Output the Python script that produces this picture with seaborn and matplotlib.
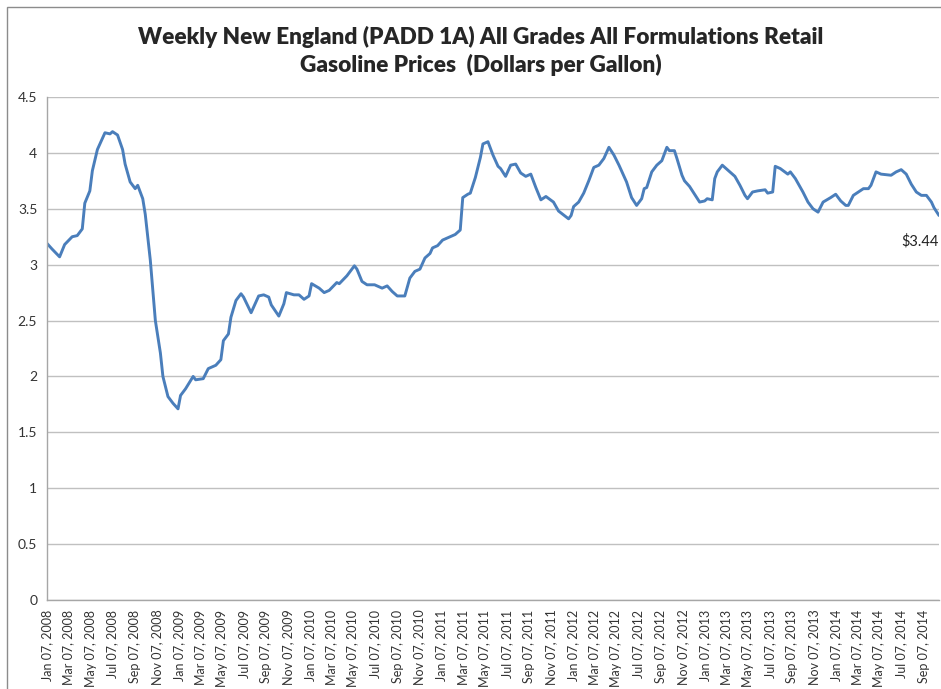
import pandas as pd
import matplotlib.pyplot as plt
import matplotlib.dates as mdates
from matplotlib.ticker import FuncFormatter, MultipleLocator
from matplotlib.patches import Rectangle
import seaborn as sns

# Weekly prices (week number counted from Jan 07, 2008)
start_date = "2008-01-07"
week_no = [
    0, 2, 5, 7, 10, 12, 14, 15, 17, 18, 20, 23, 25, 26, 28, 30, 31, 33, 35, 36,
    38, 39, 41, 43, 45, 46, 48, 50, 52, 53, 55, 58, 59, 62, 64, 67, 69, 70, 72, 73,
    75, 77, 78, 81, 82, 84, 86, 88, 89, 92, 94, 95, 98, 100, 102, 104, 105, 108, 110, 112,
    115, 116, 119, 122, 123, 125, 127, 130, 133, 135, 137, 139, 142, 144, 146, 148, 150, 152, 153, 155,
    157, 160, 162, 164, 165, 167, 168, 170, 172, 173, 175, 177, 179, 180, 182, 184, 186, 188, 190, 192,
    194, 196, 198, 201, 203, 207, 208, 209, 211, 213, 215, 217, 219, 221, 223, 225, 227, 230, 232, 234,
    236, 237, 238, 240, 242, 244, 246, 247, 249, 250, 252, 253, 255, 257, 259, 261, 262, 264, 265, 266,
    268, 270, 273, 275, 277, 278, 280, 282, 285, 286, 288, 289, 291, 294, 295, 297, 300, 302, 304, 306,
    308, 311, 313, 315, 317, 318, 320, 322, 324, 326, 327, 329, 331, 335, 337, 339, 341, 343, 345, 347,
    349, 351, 352, 354,
]
price = [
    3.19, 3.14, 3.07, 3.18, 3.25, 3.26, 3.32, 3.55, 3.66, 3.84, 4.03, 4.18, 4.17, 4.19, 4.16, 4.03, 3.90, 3.74, 3.68, 3.71,
    3.59, 3.45, 3.04, 2.50, 2.21, 2.00, 1.82, 1.76, 1.71, 1.83, 1.89, 2.00, 1.97, 1.98, 2.07, 2.10, 2.15, 2.32, 2.38, 2.53,
    2.68, 2.74, 2.71, 2.57, 2.62, 2.72, 2.73, 2.71, 2.64, 2.54, 2.65, 2.75, 2.73, 2.73, 2.69, 2.72, 2.83, 2.79, 2.75, 2.77,
    2.84, 2.83, 2.90, 2.99, 2.96, 2.85, 2.82, 2.82, 2.79, 2.81, 2.76, 2.72, 2.72, 2.88, 2.94, 2.96, 3.06, 3.10, 3.15, 3.17,
    3.22, 3.25, 3.27, 3.31, 3.60, 3.63, 3.64, 3.78, 3.96, 4.08, 4.10, 3.98, 3.88, 3.86, 3.79, 3.89, 3.90, 3.82, 3.79, 3.81,
    3.69, 3.58, 3.61, 3.56, 3.48, 3.41, 3.44, 3.52, 3.56, 3.64, 3.75, 3.87, 3.89, 3.95, 4.05, 3.98, 3.89, 3.74, 3.60, 3.53,
    3.59, 3.68, 3.69, 3.83, 3.89, 3.93, 4.05, 4.02, 4.02, 3.95, 3.80, 3.75, 3.70, 3.63, 3.56, 3.57, 3.59, 3.58, 3.77, 3.83,
    3.89, 3.85, 3.79, 3.71, 3.62, 3.59, 3.65, 3.66, 3.67, 3.64, 3.65, 3.88, 3.86, 3.81, 3.83, 3.77, 3.65, 3.56, 3.50, 3.47,
    3.56, 3.60, 3.63, 3.57, 3.53, 3.53, 3.62, 3.65, 3.68, 3.68, 3.71, 3.83, 3.81, 3.80, 3.83, 3.85, 3.81, 3.72, 3.65, 3.62,
    3.62, 3.56, 3.51, 3.44,
]
last_label = "$3.44"

df = pd.DataFrame({
    "Date": pd.Timestamp(start_date) + pd.to_timedelta([w * 7 for w in week_no], unit="D"),
    "Price": price,
})

sns.set_style("white")
plt.rcParams["font.family"] = ["Lato", "DejaVu Sans"]

fig = plt.figure(figsize=(9.41, 6.89), dpi=100)
ax = fig.add_axes([47 / 941, 1 - 600 / 689, 892 / 941, 503 / 689])

sns.lineplot(data=df, x="Date", y="Price", ax=ax, color="#4a7ebb", linewidth=2.1)

# axes and grid
ax.set_ylim(0, 4.5)
ax.set_xlim(df["Date"].iloc[0], df["Date"].iloc[-1])
ax.yaxis.set_major_locator(MultipleLocator(0.5))
ax.yaxis.set_major_formatter(FuncFormatter(lambda v, p: f"{v:g}"))
ax.xaxis.set_major_locator(mdates.MonthLocator(bymonth=[1, 3, 5, 7, 9, 11], bymonthday=7))
ax.xaxis.set_major_formatter(mdates.DateFormatter("%b %d, %Y"))
ax.grid(axis="y", color="#c0c0c0", linewidth=1.0)
ax.set_axisbelow(True)
for side in ["top", "right"]:
    ax.spines[side].set_visible(False)
for side in ["left", "bottom"]:
    ax.spines[side].set_color("#a6a6a6")
    ax.spines[side].set_linewidth(1.0)
ax.tick_params(axis="both", which="major", direction="out", length=4, width=1, color="#a6a6a6",
               labelcolor="#333333", pad=3)
ax.tick_params(axis="x", labelsize=9)
ax.tick_params(axis="y", labelsize=10)
plt.setp(ax.get_xticklabels(), rotation=90)
ax.set_xlabel("")
ax.set_ylabel("")

ax.annotate(last_label, xy=(df["Date"].iloc[-1], df["Price"].iloc[-1]), xytext=(0, -13),
            textcoords="offset points", ha="right", va="top", fontsize=10.5, color="#222222")

fig.text(481 / 941, 1 - 26 / 689,
         "Weekly New England (PADD 1A) All Grades All Formulations Retail\nGasoline Prices  (Dollars per Gallon)",
         ha="center", va="top", fontsize=16.3, fontweight="heavy", linespacing=1.3)

# chart area border
fig.patches.append(Rectangle((7 / 941, -0.05), 1.05, 1 - 7 / 689 + 0.05, transform=fig.transFigure,
                             fill=False, edgecolor="#8c8c8c", linewidth=1.0))

fig.savefig("out.png", dpi=100)
